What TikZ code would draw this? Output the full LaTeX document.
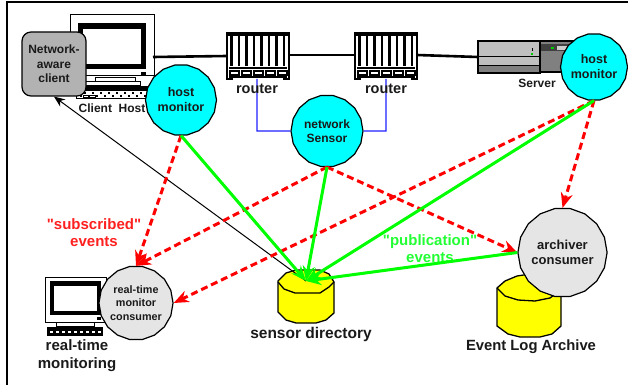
\documentclass[tikz,border=0pt]{standalone}
\usepackage{fontspec}
\setmainfont{Liberation Sans}
\newfontfamily\plainq[Ligatures=NoCommon]{Liberation Sans}
\usetikzlibrary{arrows.meta,shapes.geometric}
\definecolor{ccyan}{HTML}{00FFFF}
\definecolor{cgreen}{HTML}{00FF00}
\definecolor{cgreent}{HTML}{22FF33}
\definecolor{cred}{HTML}{FF0000}
\definecolor{credt}{HTML}{FF2020}
\definecolor{cblue}{HTML}{2020FF}
\definecolor{cyel}{HTML}{FFFF00}
\definecolor{cgbox}{HTML}{B2B2B2}
\definecolor{ccons}{HTML}{E5E5E5}
\definecolor{ctxt}{HTML}{1A1A1A}
\newcommand{\fs}[2]{\fontsize{#1}{#2}\selectfont\bfseries}
\tikzset{
  round/.style={regular polygon,regular polygon sides=18,draw=black,line width=1.2pt,inner sep=0pt,align=center,text=ctxt},
  sensorball/.style={round,fill=ccyan,minimum size=#1,font=\fs{12.5}{15}},
  consball/.style={round,fill=ccons,minimum size=#1},
  lab/.style={inner sep=0pt,align=center,text=ctxt},
  pub/.style={line width=3pt,cgreen,-{Stealth[length=15pt,width=12pt]}},
  sub/.style={line width=3pt,cred,dash pattern=on 7pt off 4pt,-{Stealth[length=15pt,width=12pt]}},
  wire/.style={line width=2.6pt,black},
  tap/.style={line width=1.4pt,cblue},
  cyl/.style={draw=black,line width=1.3pt,fill=cyel}
}
\begin{document}
\begin{tikzpicture}[x=1pt,y=-1pt]
\useasboundingbox (0,0) rectangle (628,385);
\fill[white] (0,0) rectangle (628,385);
\draw[line width=2.2pt,black] (7,385) -- (7,2) -- (628,2);

% client computer
\draw[line width=1pt,fill=white] (70,15) rectangle (154,76);
\draw[line width=5.5pt,fill=white] (80.5,26) rectangle (143.5,66.5);
\fill (141,72) rectangle (146,75);
\draw[line width=1pt,fill=white] (95,78) rectangle (135,82);
\draw[line width=1pt,fill=white] (85,82) rectangle (140,86);
\fill[black] (82,86) rectangle (150,91);
\draw[line width=1pt,fill=white] (76,91) rectangle (150,99);
\foreach \k in {84,92,...,148}{\fill (\k,92) rectangle +(2,2.5); \fill (\k-4,95.5) rectangle +(2,2);}
\draw[line width=1pt] (83,96) rectangle (95,98);

% routers
\foreach \nm/\ox in {rtra/227,rtrb/355}{
  \begin{scope}[shift={(\ox,33)}]
    \draw[line width=1.3pt,fill=white] (0,0) rectangle (62,46);
    \fill (0,0) rectangle (62,3);
    \foreach \s in {4.5,12,...,58}{\draw[line width=2.4pt] (\s,3) -- (\s,33);}
    \draw[line width=1.7pt] (2,35) -- (60,35);
    \foreach \s in {3,15,...,51}{\draw[line width=1.2pt,fill=white] (\s,38) rectangle +(9,4);}
    \draw[line width=1.7pt] (2,44) -- (60,44);
    \fill[white] (6,45) rectangle (56,48);
  \end{scope}
  \coordinate (\nm) at (\ox+31,56);
}
\coordinate (rtraW) at (227,56);
\coordinate (rtraE) at (289,55);
\coordinate (rtraS) at (257,79);
\coordinate (rtrbW) at (355,55);
\coordinate (rtrbE) at (417,55);
\coordinate (rtrbS) at (386,79);
\coordinate (clientE) at (153,57);
\coordinate (servW) at (478,57);

% server
\draw[line width=1.2pt,fill=black!25] (478,41) rectangle (540,73);
\draw[line width=1pt] (478,57) -- (540,57);
\draw[line width=1pt,fill=black!50] (478,65.5) rectangle (540,73);
\fill[green!80!black] (531,53) rectangle (533,55);
\fill (532,48) rectangle (533,51.5);
\draw[line width=1.2pt,fill=black!50] (540,41) rectangle (578,72);
\fill[black!75] (541,44) rectangle (575,51);
\fill[black!20] (557,46) rectangle (572,50);
\fill[green!80!black] (551,47.5) rectangle (554,49);

% wires
\draw[wire] (clientE) -- (rtraW);
\draw[wire] (rtraE) -- (rtrbW);
\draw[wire] (rtrbE) -- (servW);

% monitoring computer
\draw[line width=1pt,fill=white] (45,277) rectangle (106,322);
\draw[line width=4.5pt,fill=white] (52,283.5) rectangle (99,313);
\fill (97,317) rectangle (101,320);
\draw[line width=1pt,fill=white] (56,322) rectangle (94,326);
\fill (47,327) rectangle (103,336);
\foreach \k in {50,56,...,100}{\fill[white] (\k,331) rectangle +(3,1.5);}

% cylinders
\draw[cyl] (278,281)--(286,273)--(296,270)--(320,270)--(329,274)--(334,282)--(334,313)--(326,320)--(316,323)--(296,323)--(286,320)--(278,312)--cycle;
\draw[line width=1.3pt] (278,282)--(284,289)--(295,293)--(320,293)--(329,287)--(334,282);
\coordinate (dirtop) at (306,281);
\draw[cyl] (497,288)--(505,281)--(517,276)--(530,274)--(548,276)--(561,290)--(561,326)--(552,334)--(540,337)--(520,337)--(508,334)--(497,326)--cycle;
\draw[line width=1.3pt] (497,288)--(505,296)--(518,300)--(535,301)--(550,298)--(561,290);

% nodes
\node[draw=black,line width=1.2pt,fill=cgbox,rounded corners=9pt,minimum width=64pt,minimum height=64pt,inner sep=0pt,align=center,text=ctxt,font=\fs{12}{14.5}] (client) at (54,64) {Network-\\aware\\client};
\node[sensorball=71pt] (hosta) at (181,100) {host\\monitor};
\node[sensorball=72pt,font=\fs{12}{14.5}] (nsensor) at (327,131) {network\\Sensor};
\node[sensorball=67pt] (hostb) at (594,67) {host\\monitor};
\node[consball=73pt,font=\fs{10.8}{13.2}] (rtcons) at (136,303) {real-time\\monitor\\consumer};
\node[consball=82pt,font=\fs{13}{15}] (arch) at (562.5,252.5) {archiver\\consumer};

% taps
\draw[tap] (rtraS) -- (257,131) -- (nsensor.west);
\draw[tap] (rtrbS) -- (386,131) -- (nsensor.east);

% labels
\node[lab,font=\fs{14.5}{17}] (lroutera) at (257,89) {router};
\node[lab,font=\fs{14.5}{17}] (lrouterb) at (386,89) {router};
\node[lab,font=\fs{12}{14}] (lclient) at (112,108) {Client\ \ Host};
\node[lab,font=\fs{12}{14}] (lserver) at (537,83.5) {Server};
\node[lab,font=\fs{15}{18}] (lmon) at (77,356) {real-time\\monitoring};
\node[lab,font=\fs{15.5}{18}] (ldir) at (311,334) {sensor directory};
\node[lab,font=\fs{14.8}{18}] (larch) at (531,347) {Event Log Archive};
\node[lab,text=credt,font=\plainq\fs{15}{17}] (lsub) at (94,232.5) {"subscribed"\\events};
\node[lab,text=cgreent,font=\plainq\fs{15}{17}] (lpub) at (430,248.5) {"publication"\\events};

% event flows
\draw[line width=1pt,black,-{Stealth[length=11pt,width=9pt]}] (dirtop) -- (client.south);
\draw[sub] (hosta.south) -- (rtcons.north);
\draw[sub] (nsensor.south) -- (rtcons.north);
\draw[sub] (nsensor.south) -- (arch.west);
\draw[sub] (hostb.south) -- (arch.north);
\draw[sub] (hostb.south) -- (rtcons.east);
\draw[pub] (hosta.south) -- (dirtop);
\draw[pub] (nsensor.south) -- (dirtop);
\draw[pub] (hostb.south) -- (dirtop);
\draw[pub] (arch.west) -- (dirtop);
\end{tikzpicture}
\end{document}
